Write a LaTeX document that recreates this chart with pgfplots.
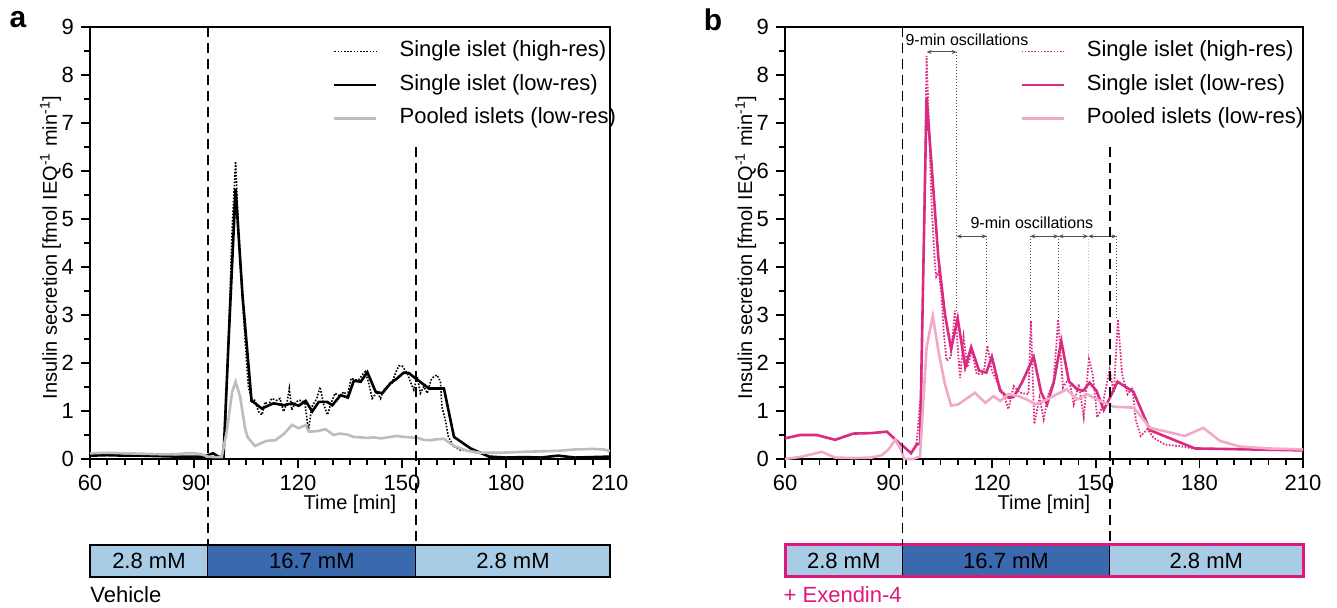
\documentclass[border=0pt]{standalone}
\usepackage{fontspec}
\setmainfont{Liberation Sans}
\usepackage{pgfplots}
\pgfplotsset{compat=1.18}
\usetikzlibrary{arrows.meta}
\definecolor{lblue}{HTML}{A8CBE6}
\definecolor{dblue}{HTML}{3A69AD}
\definecolor{mag}{HTML}{DB2A82}
\definecolor{lpink}{HTML}{F2A9C8}
\definecolor{gr}{HTML}{BDBDBD}
\definecolor{magb}{HTML}{E0187E}
\definecolor{annot}{HTML}{505050}

\tikzset{
  hires/.style={line width=0.8pt, dash pattern=on 0.8pt off 0.8pt},
  vdash/.style={black, line width=0.9pt, dash pattern=on 5pt off 3pt},
  oscarr/.style={annot, line width=0.5pt, {Stealth[length=2.5pt,width=2pt]}-{Stealth[length=2.5pt,width=2pt]}},
  oscv/.style={annot, line width=0.5pt, densely dotted},
}

\pgfplotsset{panel/.style={
  scale only axis, width=260pt, height=216pt,
  xmin=60, xmax=210, ymin=0, ymax=9,
  xtick={60,90,...,210}, ytick={0,1,...,9},
  minor x tick num=5, minor y tick num=1,
  tick align=outside, tick pos=left,
  major tick length=4.5pt, minor tick length=3pt,
  every tick/.style={black, line width=0.9pt},
  axis line style={line width=1pt},
  tick label style={font=\fontsize{11}{13}\selectfont},
  /pgf/number format/assume math mode=true,
  xlabel={Time [min]},
  label style={font=\fontsize{10}{12}\selectfont},
  xlabel style={at={(axis description cs:0.5,0)}, anchor=center, yshift=-22.5pt},
  ylabel={Insulin secretion [fmol IEQ\textsuperscript{-1} min\textsuperscript{-1}]},
  ylabel style={at={(axis description cs:-0.076,0.49)}, anchor=center},
  clip=false,
  legend cell align=left,
  legend style={at={(axis cs:130.0,8.76)}, anchor=north west, draw=none, fill=none,
    inner sep=0pt, font=\fontsize{11}{13}\selectfont, row sep=4.25pt,
    nodes={inner sep=1pt, text height=8pt, text depth=2.5pt},
    /tikz/every odd column/.append style={column sep=10pt}},
  legend image code/.code={\draw[#1] (0pt,0pt) -- (21pt,0pt);},
}}

\begin{document}
\begin{tikzpicture}
\useasboundingbox (0,0) rectangle (668.5pt,303.5pt);

% ---------------- Panel a ----------------
\begin{axis}[panel, at={(45pt,74pt)}, anchor=south west]
\addplot[hires, black] coordinates {
(96,0.08) (97,0.05) (98,0.04) (99,0.5) (100,2.6) (101,4.8) (102,6.2) (103,4.5) (104,3.3)
(105,2.2) (105.7,1.5) (106.6,1.25) (107.6,1.22) (108.6,0.99) (109.6,0.92) (110.5,1.19)
(111.5,1.12) (112.4,1.26) (113.9,1.22) (114.8,1.26) (115.8,0.99) (116.8,1.16) (117.5,1.47)
(118.2,1.02) (119.1,1.16) (120.1,1.22) (121.1,1.22) (122,1.16) (123,0.6) (124,1.09)
(125.4,1.26) (126.4,1.5) (127.3,1.16) (128.5,0.92) (129.5,1.16) (130.7,1.37) (132.2,1.30)
(133.1,1.4) (134.3,1.33) (135.3,1.68) (136.5,1.65) (137.5,1.65) (138.5,1.75) (139.4,1.82)
(140.4,1.58) (141.4,1.26) (142.8,1.40) (143.8,1.26) (144.7,1.44) (145.7,1.51) (147.1,1.58)
(148.1,1.79) (149.1,1.94) (150,1.94) (151.5,1.79) (152.4,1.61) (153.4,1.44) (154.4,1.72)
(155.3,1.37) (156.3,1.51) (157.3,1.37) (158.4,1.65) (159.2,1.72) (160.1,1.75) (161.1,1.61)
(161.5,1.09) (162.5,0.81) (163.4,0.46) (164.9,0.26) (166.8,0.19) (170.6,0.15) (174.5,0.08) (176,0.05)
};
\addlegendentry{Single islet (high-res)}
\addplot[black, line width=1.3pt] coordinates {
(60,0.07) (65,0.08) (70,0.07) (75,0.07) (80,0.06) (85,0.05) (90,0.05) (93,0.05) (95.5,0.12)
(97,0.05) (98.5,0.03) (100,2.5) (102,5.63) (104,3.4) (106.6,1.21) (107.1,1.19) (109.6,1.05)
(111.9,1.13) (113,1.16) (115.9,1.12) (118.3,1.16) (120.2,1.11) (122.2,1.21) (124.1,0.99)
(126,1.19) (128.4,1.19) (129.9,1.12) (132.3,1.33) (134.4,1.28) (136.1,1.63) (138.1,1.61)
(140,1.81) (142.4,1.40) (144.3,1.37) (146.7,1.58) (148.6,1.68) (150.5,1.80) (152,1.79)
(153.9,1.68) (157.8,1.47) (162.1,1.47) (165,0.46) (169.8,0.22) (175.1,0.05) (180,0.03)
(185,0.04) (190,0.03) (195,0.07) (200,0.03) (205,0.04) (210,0.05)
};
\addlegendentry{Single islet (low-res)}
\addplot[gr, line width=1.3pt] coordinates {
(60,0.12) (65,0.13) (70,0.12) (75,0.11) (80,0.1) (85,0.1) (88,0.12) (90,0.12) (92,0.1)
(94,0.05) (96,0.04) (98,0.04) (99.5,0.6) (101,1.4) (102,1.61) (103.3,1.3) (104.7,0.65)
(105.5,0.45) (107.6,0.27) (109,0.32) (111,0.38) (113.4,0.39) (115.9,0.52) (118.3,0.71)
(120.2,0.64) (122.2,0.71) (123.1,0.57) (125.5,0.58) (127.9,0.62) (130.3,0.50) (132,0.53)
(134.2,0.51) (136,0.46) (138.1,0.45) (140,0.44) (141.9,0.45) (144,0.43) (145.8,0.45)
(148.6,0.48) (150.5,0.46) (152.5,0.45) (154.5,0.44) (156.3,0.40) (158,0.39) (160,0.41)
(162.1,0.42) (165,0.27) (168.9,0.17) (172.7,0.13) (178,0.13) (185,0.15) (190,0.16)
(195,0.17) (200,0.2) (205,0.21) (208,0.2) (210,0.17)
};
\addlegendentry{Pooled islets (low-res)}
% stimulation bar
\fill[lblue] (axis cs:60,-1.79) rectangle (axis cs:94,-2.458);
\fill[dblue] (axis cs:94,-1.79) rectangle (axis cs:154,-2.458);
\fill[lblue] (axis cs:154,-1.79) rectangle (axis cs:210,-2.458);
\draw[black, line width=0.6pt] (axis cs:94,-1.79) -- (axis cs:94,-2.458);
\draw[black, line width=0.6pt] (axis cs:154,-1.79) -- (axis cs:154,-2.458);
\draw[black, line width=1.3pt] (axis cs:60,-1.79) rectangle (axis cs:210,-2.458);
\node[font=\fontsize{11}{13}\selectfont] at (axis cs:77,-2.124) {2.8 mM};
\node[font=\fontsize{11}{13}\selectfont] at (axis cs:124,-2.124) {16.7 mM};
\node[font=\fontsize{11}{13}\selectfont] at (axis cs:182,-2.124) {2.8 mM};
\node[font=\fontsize{11}{13}\selectfont, anchor=west, inner sep=0pt] at (axis cs:60,-2.82) {Vehicle};
\draw[vdash] (axis cs:94,9) -- (axis cs:94,-1.79);
\draw[vdash] (axis cs:154,6.5) -- (axis cs:154,-1.79);
\end{axis}

% ---------------- Panel b ----------------
\begin{axis}[panel, width=259pt, at={(392.5pt,74pt)}, anchor=south west,
  legend style={at={(axis cs:128.0,8.76)}}]
\addplot[hires, mag, line width=0.9pt] coordinates {
(98,0.25) (99.5,1.5) (100.3,5) (101,8.4) (101.7,6.9) (102.5,5.2) (103.4,4.07) (103.8,3.8)
(104.5,3.9) (105.3,3.43) (106,2.6) (106.8,2.05) (108,2.12) (109.2,3.09) (110.7,1.69)
(111.7,2.54) (112.8,1.91) (114.1,2.26) (115.5,1.77) (117.5,1.77) (118.6,2.36) (119.9,1.84)
(121.3,1.62) (123.3,1.35) (124.7,1.04) (126.2,1.52) (128.1,1.38) (130.5,1.35) (131.2,2.88)
(132.2,0.73) (133.7,1.28) (134.9,0.83) (136.3,1.35) (137.8,1.62) (139.1,2.91) (140.5,1.49)
(142.2,1.69) (143.6,1.14) (145.1,1.56) (146.5,0.87) (148,2.08) (149.1,1.77) (150.4,0.87)
(151.8,1.07) (154.0,1.87) (155.2,1.38) (156.4,2.91) (157.6,1.77) (159.2,1.35) (160.6,1.49)
(161.6,0.80) (163,0.48) (164.9,0.62) (166.8,0.44) (170,0.3) (175,0.26) (178,0.22)
};
\addlegendentry{Single islet (high-res)}
\addplot[mag, line width=1.3pt] coordinates {
(60,0.43) (64.3,0.5) (69.2,0.5) (74.5,0.40) (79.8,0.53) (85,0.54) (89.5,0.57) (92.8,0.35)
(94.5,0.25) (96.5,0.12) (98.1,0.3) (99.1,0.32) (101,7.54) (104.4,4.2) (106.3,3.02)
(108.1,2.29) (110,2.93) (112.2,1.91) (113.9,2.33) (116.2,1.84) (118.3,1.80) (119.9,2.13)
(122.3,1.42) (124.7,1.28) (126.2,1.29) (128.6,1.59) (132,2.13) (134.2,1.38) (135.9,1.14)
(137.8,1.59) (140,2.46) (142.2,1.62) (144.6,1.45) (146.3,1.42) (148.2,1.59) (150.2,1.42)
(152.3,1.02) (154.3,1.31) (156.3,1.61) (160.9,1.40) (165.7,0.6) (178.7,0.22) (210,0.18)
};
\addlegendentry{Single islet (low-res)}
\addplot[lpink, line width=1.3pt] coordinates {
(60,0.0) (65,0.05) (70.6,0.15) (74.5,0.03) (80,0.02) (85,0.03) (88,0.08) (90,0.2)
(91.9,0.4) (93.6,0.2) (94.5,0.0) (97,0.0) (99.1,0.05) (101,2.33) (102.8,2.98) (104.4,2.26)
(106.3,1.56) (108.1,1.11) (110.2,1.14) (115,1.38) (118,1.17) (120.4,1.31) (122.3,1.21)
(124.7,1.35) (127.6,1.31) (130,1.24) (132.5,1.14) (135.9,1.24) (138.7,1.35) (141.6,1.45)
(144.6,1.24) (147.4,1.35) (151.3,1.21) (155.2,1.09) (161,1.07) (165.7,0.65) (175.8,0.48)
(181.1,0.65) (185.9,0.38) (191.7,0.26) (200,0.22) (210,0.2)
};
\addlegendentry{Pooled islets (low-res)}
% oscillation annotations
\node[font=\fontsize{8}{9}\selectfont, anchor=west, inner sep=0pt] at (axis cs:94.8,8.73) {9-min oscillations};
\draw[oscarr] (axis cs:101,8.48) -- (axis cs:109.7,8.48);
\draw[oscv] (axis cs:109.7,8.48) -- (axis cs:109.7,3.09);
\node[font=\fontsize{8}{9}\selectfont, inner sep=0pt] at (axis cs:131.5,4.93) {9-min oscillations};
\draw[oscarr] (axis cs:109.7,4.64) -- (axis cs:118.4,4.64);
\draw[oscarr] (axis cs:131,4.64) -- (axis cs:139.2,4.64);
\draw[oscarr] (axis cs:139.2,4.64) -- (axis cs:147.8,4.64);
\draw[oscarr] (axis cs:147.8,4.64) -- (axis cs:156,4.64);
\draw[oscv] (axis cs:118.4,4.64) -- (axis cs:118.4,2.4);
\draw[oscv] (axis cs:131,4.64) -- (axis cs:131,2.9);
\draw[oscv] (axis cs:139.2,4.64) -- (axis cs:139.2,2.95);
\draw[oscv, lpink] (axis cs:147.8,4.64) -- (axis cs:147.8,2.1);
\draw[oscv] (axis cs:156,4.64) -- (axis cs:156,2.95);
% stimulation bar
\fill[lblue] (axis cs:60,-1.79) rectangle (axis cs:94,-2.458);
\fill[dblue] (axis cs:94,-1.79) rectangle (axis cs:154,-2.458);
\fill[lblue] (axis cs:154,-1.79) rectangle (axis cs:210,-2.458);
\draw[black, line width=0.6pt] (axis cs:94,-1.79) -- (axis cs:94,-2.458);
\draw[black, line width=0.6pt] (axis cs:154,-1.79) -- (axis cs:154,-2.458);
\draw[magb, line width=1.5pt] (axis cs:60,-1.79) rectangle (axis cs:210,-2.458);
\node[font=\fontsize{11}{13}\selectfont] at (axis cs:77,-2.124) {2.8 mM};
\node[font=\fontsize{11}{13}\selectfont] at (axis cs:124,-2.124) {16.7 mM};
\node[font=\fontsize{11}{13}\selectfont] at (axis cs:182,-2.124) {2.8 mM};
\node[font=\fontsize{11}{13}\selectfont, anchor=west, inner sep=0pt, text=magb] at (axis cs:59.5,-2.82) {+ Exendin-4};
\draw[vdash] (axis cs:94,9) -- (axis cs:94,-1.79);
\draw[vdash] (axis cs:154,6.5) -- (axis cs:154,-1.79);
\end{axis}

\node[font=\bfseries\fontsize{15}{15}\selectfont] at (9pt,293.5pt) {a};
\node[font=\bfseries\fontsize{15}{15}\selectfont] at (356.5pt,293.5pt) {b};
\end{tikzpicture}
\end{document}
